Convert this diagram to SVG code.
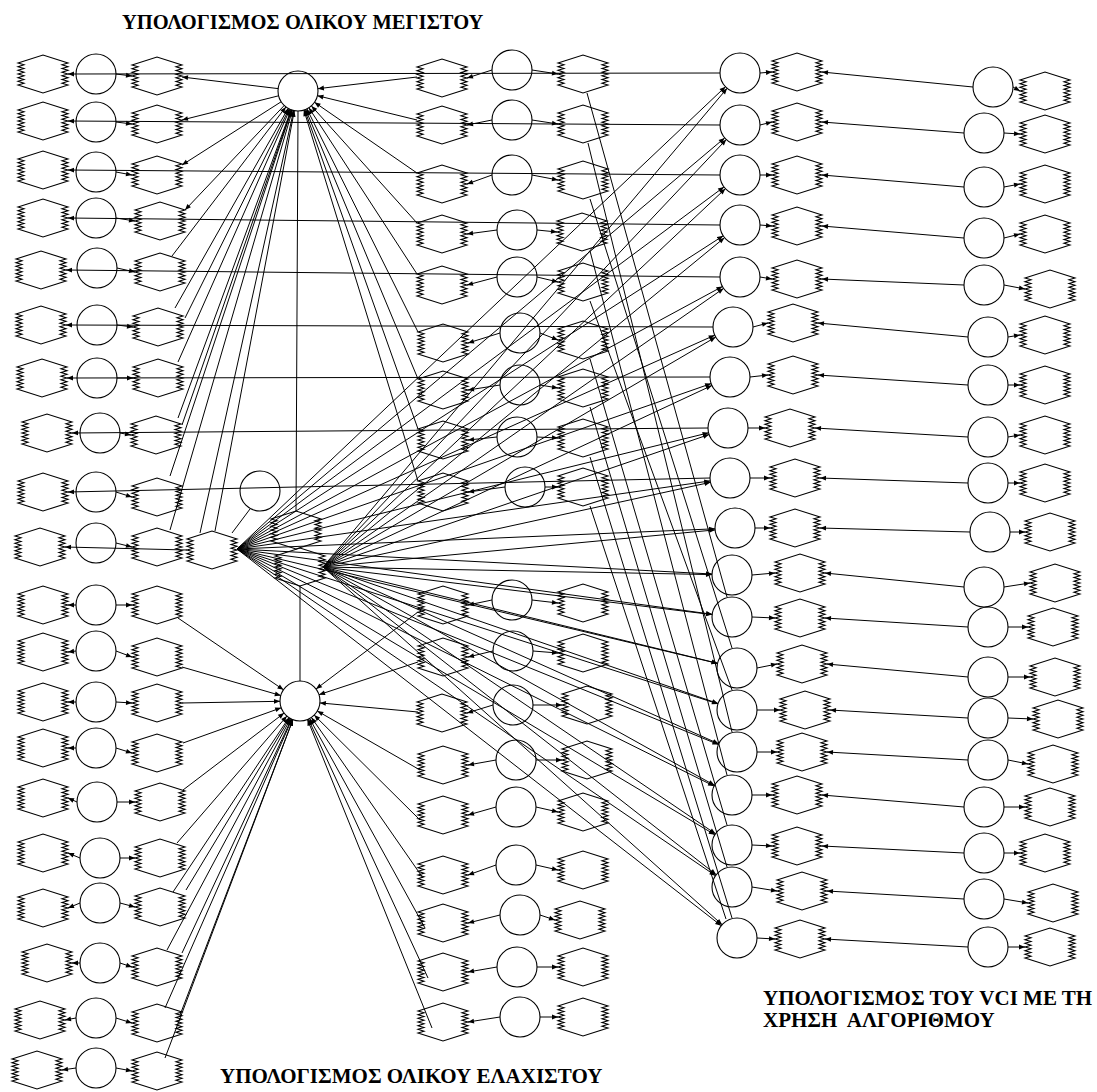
<svg xmlns="http://www.w3.org/2000/svg" xmlns:xlink="http://www.w3.org/1999/xlink" width="1097" height="1092" viewBox="0 0 1097 1092">
<style>
.n{fill:none;stroke:#000;stroke-width:1.1}
.l line{stroke:#000;stroke-width:1}
.l line.a{marker-end:url(#ah)}
.t{font-family:"Liberation Serif","Times New Roman",serif;font-weight:bold;font-size:20.5px;fill:#000}
.t2{font-size:21px}
</style>
<defs>
<marker id="ah" viewBox="0 0 10 10" refX="10" refY="5" markerWidth="7" markerHeight="6" markerUnits="userSpaceOnUse" orient="auto"><path d="M0,1L10,5L0,9Z" fill="#000"/></marker>
<path id="hx" d="M-25,-11L0,-19L25,-11L19,-9.2L25,-7.3L19,-5.5L25,-3.7L19,-1.8L25,0L19,1.8L25,3.7L19,5.5L25,7.3L19,9.2L25,11L0,19L-25,11L-19,9.2L-25,7.3L-19,5.5L-25,3.7L-19,1.8L-25,0L-19,-1.8L-25,-3.7L-19,-5.5L-25,-7.3L-19,-9.2Z"/>
</defs>
<rect width="1097" height="1092" fill="#fff"/>

<g id="connectors" class="l">
<line class="a" x1="116" y1="74" x2="132" y2="76"/>
<line class="a" x1="116" y1="122" x2="132" y2="124"/>
<line class="a" x1="116" y1="172" x2="132" y2="175"/>
<line class="a" x1="116" y1="218" x2="135" y2="221"/>
<line class="a" x1="117" y1="268" x2="135" y2="272"/>
<line class="a" x1="117" y1="325" x2="133" y2="327"/>
<line class="a" x1="117" y1="378" x2="133" y2="378"/>
<line class="a" x1="120" y1="433" x2="131" y2="435"/>
<line class="a" x1="116" y1="492" x2="132" y2="497"/>
<line class="a" x1="116" y1="543" x2="132" y2="547"/>
<line class="a" x1="116" y1="605" x2="132" y2="605"/>
<line class="a" x1="116" y1="651" x2="132" y2="657"/>
<line class="a" x1="116" y1="702" x2="132" y2="703"/>
<line class="a" x1="116" y1="748" x2="132" y2="753"/>
<line class="a" x1="117" y1="802" x2="135" y2="802"/>
<line class="a" x1="120" y1="858" x2="135" y2="858"/>
<line class="a" x1="120" y1="903" x2="135" y2="907"/>
<line class="a" x1="120" y1="963" x2="132" y2="967"/>
<line class="a" x1="116" y1="1018" x2="132" y2="1023"/>
<line class="a" x1="116" y1="1068" x2="132" y2="1071"/>
<line class="a" x1="720" y1="73" x2="68" y2="74"/>
<line class="a" x1="720" y1="125" x2="68" y2="121"/>
<line class="a" x1="720" y1="175" x2="68" y2="170"/>
<line class="a" x1="720" y1="225" x2="68" y2="218"/>
<line class="a" x1="720" y1="277" x2="66" y2="270"/>
<line class="a" x1="713" y1="327" x2="66" y2="325"/>
<line class="a" x1="710" y1="377" x2="67" y2="378"/>
<line class="a" x1="708" y1="428" x2="72" y2="433"/>
<line class="a" x1="710" y1="478" x2="68" y2="492"/>
<line class="a" x1="187" y1="550" x2="65" y2="547"/>
<line class="a" x1="76" y1="605" x2="68" y2="605"/>
<line class="a" x1="76" y1="651" x2="68" y2="652"/>
<line class="a" x1="76" y1="702" x2="68" y2="702"/>
<line class="a" x1="76" y1="748" x2="68" y2="748"/>
<line class="a" x1="77" y1="802" x2="68" y2="798"/>
<line class="a" x1="80" y1="858" x2="68" y2="853"/>
<line class="a" x1="80" y1="903" x2="68" y2="908"/>
<line class="a" x1="80" y1="963" x2="72" y2="963"/>
<line class="a" x1="76" y1="1018" x2="65" y2="1020"/>
<line class="a" x1="76" y1="1068" x2="62" y2="1070"/>
<line class="a" x1="492" y1="70" x2="467" y2="78"/><line class="a" x1="532" y1="70" x2="558" y2="74"/>
<line class="a" x1="492" y1="120" x2="467" y2="125"/><line class="a" x1="532" y1="120" x2="558" y2="124"/>
<line class="a" x1="492" y1="175" x2="467" y2="184"/><line class="a" x1="532" y1="175" x2="558" y2="180"/>
<line class="a" x1="497" y1="230" x2="467" y2="234"/><line class="a" x1="537" y1="230" x2="557" y2="232"/>
<line class="a" x1="497" y1="277" x2="467" y2="285"/><line class="a" x1="537" y1="277" x2="558" y2="282"/>
<line class="a" x1="500" y1="333" x2="468" y2="343"/><line class="a" x1="540" y1="333" x2="558" y2="340"/>
<line class="a" x1="500" y1="385" x2="468" y2="390"/><line class="a" x1="540" y1="385" x2="558" y2="388"/>
<line class="a" x1="497" y1="437" x2="468" y2="440"/><line class="a" x1="537" y1="437" x2="558" y2="438"/>
<line class="a" x1="505" y1="487" x2="468" y2="492"/><line class="a" x1="545" y1="487" x2="558" y2="487"/>
<line class="a" x1="492" y1="600" x2="468" y2="605"/><line class="a" x1="532" y1="600" x2="558" y2="603"/>
<line class="a" x1="493" y1="651" x2="468" y2="657"/><line class="a" x1="533" y1="651" x2="558" y2="653"/>
<line class="a" x1="493" y1="705" x2="467" y2="713"/><line class="a" x1="533" y1="705" x2="562" y2="705"/>
<line class="a" x1="496" y1="760" x2="468" y2="765"/><line class="a" x1="536" y1="760" x2="562" y2="760"/>
<line class="a" x1="496" y1="807" x2="468" y2="815"/><line class="a" x1="536" y1="807" x2="558" y2="812"/>
<line class="a" x1="496" y1="865" x2="468" y2="875"/><line class="a" x1="536" y1="865" x2="558" y2="870"/>
<line class="a" x1="500" y1="915" x2="468" y2="923"/><line class="a" x1="540" y1="915" x2="555" y2="920"/>
<line class="a" x1="497" y1="967" x2="468" y2="972"/><line class="a" x1="537" y1="967" x2="558" y2="967"/>
<line class="a" x1="500" y1="1017" x2="468" y2="1022"/><line class="a" x1="540" y1="1017" x2="558" y2="1017"/>
<line class="a" x1="760" y1="73" x2="772" y2="72"/><line class="a" x1="973" y1="87" x2="822" y2="72"/><line class="a" x1="1013" y1="87" x2="1020" y2="91"/>
<line class="a" x1="760" y1="125" x2="772" y2="122"/><line class="a" x1="964" y1="133" x2="822" y2="122"/><line class="a" x1="1004" y1="133" x2="1020" y2="134"/>
<line class="a" x1="760" y1="175" x2="772" y2="175"/><line class="a" x1="964" y1="187" x2="822" y2="175"/><line class="a" x1="1004" y1="187" x2="1020" y2="184"/>
<line class="a" x1="760" y1="225" x2="772" y2="226"/><line class="a" x1="964" y1="238" x2="822" y2="226"/><line class="a" x1="1004" y1="238" x2="1020" y2="234"/>
<line class="a" x1="760" y1="277" x2="772" y2="279"/><line class="a" x1="964" y1="285" x2="822" y2="279"/><line class="a" x1="1004" y1="285" x2="1025" y2="289"/>
<line class="a" x1="753" y1="327" x2="768" y2="323"/><line class="a" x1="968" y1="337" x2="818" y2="323"/><line class="a" x1="1008" y1="337" x2="1020" y2="335"/>
<line class="a" x1="750" y1="377" x2="768" y2="375"/><line class="a" x1="968" y1="385" x2="818" y2="375"/><line class="a" x1="1008" y1="385" x2="1020" y2="385"/>
<line class="a" x1="748" y1="428" x2="765" y2="428"/><line class="a" x1="968" y1="437" x2="815" y2="428"/><line class="a" x1="1008" y1="437" x2="1020" y2="435"/>
<line class="a" x1="750" y1="478" x2="770" y2="478"/><line class="a" x1="968" y1="483" x2="820" y2="478"/><line class="a" x1="1008" y1="483" x2="1020" y2="483"/>
<line class="a" x1="755" y1="528" x2="770" y2="528"/><line class="a" x1="970" y1="532" x2="820" y2="528"/><line class="a" x1="1010" y1="532" x2="1025" y2="532"/>
<line class="a" x1="752" y1="575" x2="775" y2="573"/><line class="a" x1="964" y1="587" x2="825" y2="573"/><line class="a" x1="1004" y1="587" x2="1030" y2="583"/>
<line class="a" x1="752" y1="617" x2="775" y2="618"/><line class="a" x1="968" y1="627" x2="825" y2="618"/><line class="a" x1="1008" y1="627" x2="1028" y2="627"/>
<line class="a" x1="757" y1="668" x2="777" y2="664"/><line class="a" x1="968" y1="677" x2="827" y2="664"/><line class="a" x1="1008" y1="677" x2="1030" y2="677"/>
<line class="a" x1="757" y1="710" x2="780" y2="710"/><line class="a" x1="968" y1="718" x2="830" y2="710"/><line class="a" x1="1008" y1="718" x2="1033" y2="719"/>
<line class="a" x1="757" y1="752" x2="777" y2="752"/><line class="a" x1="968" y1="760" x2="827" y2="752"/><line class="a" x1="1008" y1="760" x2="1028" y2="764"/>
<line class="a" x1="752" y1="795" x2="772" y2="795"/><line class="a" x1="964" y1="807" x2="822" y2="795"/><line class="a" x1="1004" y1="807" x2="1025" y2="807"/>
<line class="a" x1="752" y1="845" x2="772" y2="846"/><line class="a" x1="964" y1="853" x2="822" y2="846"/><line class="a" x1="1004" y1="853" x2="1020" y2="853"/>
<line class="a" x1="752" y1="887" x2="777" y2="891"/><line class="a" x1="964" y1="899" x2="827" y2="891"/><line class="a" x1="1004" y1="899" x2="1028" y2="903"/>
<line class="a" x1="757" y1="938" x2="775" y2="939"/><line class="a" x1="968" y1="947" x2="825" y2="939"/><line class="a" x1="1008" y1="947" x2="1025" y2="947"/>
<line class="a" x1="237" y1="549" x2="725.5" y2="86.7"/>
<line class="a" x1="237" y1="549" x2="724.7" y2="137.9"/>
<line class="a" x1="237" y1="549" x2="724" y2="186.9"/>
<line class="a" x1="237" y1="549" x2="723.2" y2="235.8"/>
<line class="a" x1="237" y1="549" x2="722.4" y2="286.5"/>
<line class="a" x1="237" y1="549" x2="714.7" y2="335.2"/>
<line class="a" x1="237" y1="549" x2="711.1" y2="383.6"/>
<line class="a" x1="237" y1="549" x2="708.6" y2="432.8"/>
<line class="a" x1="237" y1="549" x2="710.2" y2="480.9"/>
<line class="a" x1="237" y1="549" x2="715" y2="528.8"/>
<line class="a" x1="237" y1="549" x2="712" y2="574"/>
<line class="a" x1="237" y1="549" x2="712.2" y2="614.3"/>
<line class="a" x1="237" y1="549" x2="717.5" y2="663.4"/>
<line class="a" x1="237" y1="549" x2="718" y2="703.9"/>
<line class="a" x1="237" y1="549" x2="718.5" y2="744.5"/>
<line class="a" x1="237" y1="549" x2="714.1" y2="786.1"/>
<line class="a" x1="237" y1="549" x2="714.8" y2="834.7"/>
<line class="a" x1="237" y1="549" x2="715.5" y2="875.7"/>
<line class="a" x1="237" y1="549" x2="721.2" y2="925.7"/>
<line class="a" x1="323" y1="567" x2="727.1" y2="88.3"/>
<line class="a" x1="323" y1="567" x2="726.3" y2="139.5"/>
<line class="a" x1="323" y1="567" x2="725.4" y2="188.7"/>
<line class="a" x1="323" y1="567" x2="724.5" y2="237.7"/>
<line class="a" x1="323" y1="567" x2="723.6" y2="288.4"/>
<line class="a" x1="323" y1="567" x2="715.7" y2="337.1"/>
<line class="a" x1="323" y1="567" x2="711.9" y2="385.5"/>
<line class="a" x1="323" y1="567" x2="709.1" y2="434.5"/>
<line class="a" x1="323" y1="567" x2="710.5" y2="482.3"/>
<line class="a" x1="323" y1="567" x2="715.1" y2="529.9"/>
<line class="a" x1="323" y1="567" x2="712" y2="574.6"/>
<line class="a" x1="323" y1="567" x2="712.1" y2="614.6"/>
<line class="a" x1="323" y1="567" x2="717.6" y2="663.3"/>
<line class="a" x1="323" y1="567" x2="718.1" y2="703.5"/>
<line class="a" x1="323" y1="567" x2="718.7" y2="743.8"/>
<line class="a" x1="323" y1="567" x2="714.5" y2="785.3"/>
<line class="a" x1="323" y1="567" x2="715.5" y2="833.8"/>
<line class="a" x1="323" y1="567" x2="716.2" y2="874.7"/>
<line class="a" x1="323" y1="567" x2="722.1" y2="924.7"/>
<line x1="587" y1="93" x2="727" y2="597"/>
<line x1="588" y1="143" x2="732" y2="732"/>
<line x1="590" y1="199" x2="732" y2="648"/>
<line x1="590" y1="251" x2="727" y2="775"/>
<line x1="590" y1="301" x2="732" y2="690"/>
<line x1="590" y1="359" x2="727" y2="825"/>
<line x1="590" y1="407" x2="727" y2="867"/>
<line x1="590" y1="457" x2="732" y2="918"/>
<line x1="590" y1="506" x2="726" y2="919"/>
<line class="a" x1="278.1" y1="88.6" x2="182" y2="77"/>
<line class="a" x1="278.6" y1="95.8" x2="182" y2="120"/>
<line class="a" x1="281.1" y1="101.8" x2="182" y2="165"/>
<line class="a" x1="284.2" y1="105.5" x2="185" y2="210"/>
<line class="a" x1="172" y1="256" x2="285.9" y2="106.9"/>
<line class="a" x1="175" y1="308" x2="288.1" y2="108.4"/>
<line class="a" x1="185" y1="318" x2="289.1" y2="108.9"/>
<line class="a" x1="178" y1="362" x2="289.9" y2="109.3"/>
<line class="a" x1="178" y1="418" x2="291.1" y2="109.8"/>
<line class="a" x1="182" y1="425" x2="291.4" y2="109.9"/>
<line class="a" x1="170" y1="476" x2="291.7" y2="110"/>
<line class="a" x1="170" y1="530" x2="292.4" y2="110.2"/>
<line class="a" x1="200" y1="533" x2="293.7" y2="110.5"/>
<line class="a" x1="215" y1="531" x2="294.3" y2="110.7"/>
<line class="a" x1="417" y1="77" x2="317.9" y2="88.7"/>
<line class="a" x1="417" y1="120" x2="317.4" y2="95.7"/>
<line class="a" x1="417" y1="173" x2="314.5" y2="102.3"/>
<line class="a" x1="417" y1="223" x2="311.4" y2="105.9"/>
<line class="a" x1="417" y1="274" x2="308.9" y2="107.8"/>
<line class="a" x1="418" y1="332" x2="306.9" y2="108.9"/>
<line class="a" x1="418" y1="379" x2="305.7" y2="109.5"/>
<line class="a" x1="418" y1="429" x2="304.7" y2="109.8"/>
<line class="a" x1="418" y1="481" x2="303.9" y2="110.1"/>
<line x1="298" y1="111" x2="296" y2="511"/>
<line x1="250" y1="509" x2="232" y2="533"/>
<line class="a" x1="178" y1="618" x2="283.5" y2="689.8"/>
<line class="a" x1="182" y1="667" x2="280.8" y2="695.5"/>
<line class="a" x1="182" y1="703" x2="280" y2="701.3"/>
<line class="a" x1="183" y1="743" x2="281.2" y2="707.8"/>
<line class="a" x1="183" y1="790" x2="284.1" y2="713.1"/>
<line class="a" x1="177" y1="843" x2="286.9" y2="716.1"/>
<line class="a" x1="173" y1="892" x2="288.9" y2="717.7"/>
<line class="a" x1="186" y1="890" x2="289.7" y2="718.1"/>
<line class="a" x1="167" y1="950" x2="290.6" y2="718.6"/>
<line class="a" x1="182" y1="953" x2="291.5" y2="719.1"/>
<line class="a" x1="165" y1="1008" x2="291.9" y2="719.3"/>
<line class="a" x1="180" y1="1015" x2="292.9" y2="719.7"/>
<line class="a" x1="165" y1="1058" x2="292.9" y2="719.7"/>
<line class="a" x1="418" y1="612" x2="316" y2="689"/>
<line class="a" x1="418" y1="662" x2="319" y2="694.7"/>
<line class="a" x1="418" y1="712" x2="319.9" y2="702.9"/>
<line class="a" x1="420" y1="770" x2="317.3" y2="711"/>
<line class="a" x1="420" y1="820" x2="314.2" y2="715.1"/>
<line class="a" x1="423" y1="878" x2="311.4" y2="717.4"/>
<line class="a" x1="425" y1="928" x2="309.6" y2="718.5"/>
<line class="a" x1="428" y1="978" x2="308.4" y2="719.2"/>
<line class="a" x1="432" y1="1028" x2="307.5" y2="719.5"/>
<line x1="300" y1="586" x2="300" y2="681"/>
</g>

<g id="nodes" class="n">
<g id="a1"><use xlink:href="#hx" x="43" y="74"/></g><g id="b1"><circle cx="96" cy="74" r="20"/></g><g id="c1"><use xlink:href="#hx" x="157" y="76"/></g>
<g id="a2"><use xlink:href="#hx" x="43" y="121"/></g><g id="b2"><circle cx="96" cy="122" r="20"/></g><g id="c2"><use xlink:href="#hx" x="157" y="124"/></g>
<g id="a3"><use xlink:href="#hx" x="43" y="170"/></g><g id="b3"><circle cx="96" cy="172" r="20"/></g><g id="c3"><use xlink:href="#hx" x="157" y="175"/></g>
<g id="a4"><use xlink:href="#hx" x="43" y="218"/></g><g id="b4"><circle cx="96" cy="218" r="20"/></g><g id="c4"><use xlink:href="#hx" x="160" y="221"/></g>
<g id="a5"><use xlink:href="#hx" x="41" y="270"/></g><g id="b5"><circle cx="97" cy="268" r="20"/></g><g id="c5"><use xlink:href="#hx" x="160" y="272"/></g>
<g id="a6"><use xlink:href="#hx" x="41" y="325"/></g><g id="b6"><circle cx="97" cy="325" r="20"/></g><g id="c6"><use xlink:href="#hx" x="158" y="327"/></g>
<g id="a7"><use xlink:href="#hx" x="42" y="378"/></g><g id="b7"><circle cx="97" cy="378" r="20"/></g><g id="c7"><use xlink:href="#hx" x="158" y="378"/></g>
<g id="a8"><use xlink:href="#hx" x="47" y="433"/></g><g id="b8"><circle cx="100" cy="433" r="20"/></g><g id="c8"><use xlink:href="#hx" x="156" y="435"/></g>
<g id="a9"><use xlink:href="#hx" x="43" y="492"/></g><g id="b9"><circle cx="96" cy="492" r="20"/></g><g id="c9"><use xlink:href="#hx" x="157" y="497"/></g>
<g id="a10"><use xlink:href="#hx" x="40" y="547"/></g><g id="b10"><circle cx="96" cy="543" r="20"/></g><g id="c10"><use xlink:href="#hx" x="157" y="547"/></g>
<g id="a11"><use xlink:href="#hx" x="43" y="605"/></g><g id="b11"><circle cx="96" cy="605" r="20"/></g><g id="c11"><use xlink:href="#hx" x="157" y="605"/></g>
<g id="a12"><use xlink:href="#hx" x="43" y="652"/></g><g id="b12"><circle cx="96" cy="651" r="20"/></g><g id="c12"><use xlink:href="#hx" x="157" y="657"/></g>
<g id="a13"><use xlink:href="#hx" x="43" y="702"/></g><g id="b13"><circle cx="96" cy="702" r="20"/></g><g id="c13"><use xlink:href="#hx" x="157" y="703"/></g>
<g id="a14"><use xlink:href="#hx" x="43" y="748"/></g><g id="b14"><circle cx="96" cy="748" r="20"/></g><g id="c14"><use xlink:href="#hx" x="157" y="753"/></g>
<g id="a15"><use xlink:href="#hx" x="43" y="798"/></g><g id="b15"><circle cx="97" cy="802" r="20"/></g><g id="c15"><use xlink:href="#hx" x="160" y="802"/></g>
<g id="a16"><use xlink:href="#hx" x="43" y="853"/></g><g id="b16"><circle cx="100" cy="858" r="20"/></g><g id="c16"><use xlink:href="#hx" x="160" y="858"/></g>
<g id="a17"><use xlink:href="#hx" x="43" y="908"/></g><g id="b17"><circle cx="100" cy="903" r="20"/></g><g id="c17"><use xlink:href="#hx" x="160" y="907"/></g>
<g id="a18"><use xlink:href="#hx" x="47" y="963"/></g><g id="b18"><circle cx="100" cy="963" r="20"/></g><g id="c18"><use xlink:href="#hx" x="157" y="967"/></g>
<g id="a19"><use xlink:href="#hx" x="40" y="1020"/></g><g id="b19"><circle cx="96" cy="1018" r="20"/></g><g id="c19"><use xlink:href="#hx" x="157" y="1023"/></g>
<g id="a20"><use xlink:href="#hx" x="37" y="1070"/></g><g id="b20"><circle cx="96" cy="1068" r="20"/></g><g id="c20"><use xlink:href="#hx" x="157" y="1071"/></g>

<g id="hub-max"><circle cx="298" cy="91" r="20"/></g>
<g id="hub-x"><circle cx="260" cy="491" r="20"/></g>
<g id="h0"><use xlink:href="#hx" x="212" y="550"/></g>
<g id="h1"><use xlink:href="#hx" x="296" y="530"/></g>
<g id="h2"><use xlink:href="#hx" x="300" y="567"/></g>
<g id="hub-min"><circle cx="300" cy="701" r="20"/></g>

<g id="d1"><use xlink:href="#hx" x="442" y="78"/></g><g id="e1"><circle cx="512" cy="70" r="20"/></g><g id="f1"><use xlink:href="#hx" x="583" y="74"/></g>
<g id="d2"><use xlink:href="#hx" x="442" y="125"/></g><g id="e2"><circle cx="512" cy="120" r="20"/></g><g id="f2"><use xlink:href="#hx" x="583" y="124"/></g>
<g id="d3"><use xlink:href="#hx" x="442" y="184"/></g><g id="e3"><circle cx="512" cy="175" r="20"/></g><g id="f3"><use xlink:href="#hx" x="583" y="180"/></g>
<g id="d4"><use xlink:href="#hx" x="442" y="234"/></g><g id="e4"><circle cx="517" cy="230" r="20"/></g><g id="f4"><use xlink:href="#hx" x="582" y="232"/></g>
<g id="d5"><use xlink:href="#hx" x="442" y="285"/></g><g id="e5"><circle cx="517" cy="277" r="20"/></g><g id="f5"><use xlink:href="#hx" x="583" y="282"/></g>
<g id="d6"><use xlink:href="#hx" x="443" y="343"/></g><g id="e6"><circle cx="520" cy="333" r="20"/></g><g id="f6"><use xlink:href="#hx" x="583" y="340"/></g>
<g id="d7"><use xlink:href="#hx" x="443" y="390"/></g><g id="e7"><circle cx="520" cy="385" r="20"/></g><g id="f7"><use xlink:href="#hx" x="583" y="388"/></g>
<g id="d8"><use xlink:href="#hx" x="443" y="440"/></g><g id="e8"><circle cx="517" cy="437" r="20"/></g><g id="f8"><use xlink:href="#hx" x="583" y="438"/></g>
<g id="d9"><use xlink:href="#hx" x="443" y="492"/></g><g id="e9"><circle cx="525" cy="487" r="20"/></g><g id="f9"><use xlink:href="#hx" x="583" y="487"/></g>
<g id="d10"><use xlink:href="#hx" x="443" y="605"/></g><g id="e10"><circle cx="512" cy="600" r="20"/></g><g id="f10"><use xlink:href="#hx" x="583" y="603"/></g>
<g id="d11"><use xlink:href="#hx" x="443" y="657"/></g><g id="e11"><circle cx="513" cy="651" r="20"/></g><g id="f11"><use xlink:href="#hx" x="583" y="653"/></g>
<g id="d12"><use xlink:href="#hx" x="442" y="713"/></g><g id="e12"><circle cx="513" cy="705" r="20"/></g><g id="f12"><use xlink:href="#hx" x="587" y="705"/></g>
<g id="d13"><use xlink:href="#hx" x="443" y="765"/></g><g id="e13"><circle cx="516" cy="760" r="20"/></g><g id="f13"><use xlink:href="#hx" x="587" y="760"/></g>
<g id="d14"><use xlink:href="#hx" x="443" y="815"/></g><g id="e14"><circle cx="516" cy="807" r="20"/></g><g id="f14"><use xlink:href="#hx" x="583" y="812"/></g>
<g id="d15"><use xlink:href="#hx" x="443" y="875"/></g><g id="e15"><circle cx="516" cy="865" r="20"/></g><g id="f15"><use xlink:href="#hx" x="583" y="870"/></g>
<g id="d16"><use xlink:href="#hx" x="443" y="923"/></g><g id="e16"><circle cx="520" cy="915" r="20"/></g><g id="f16"><use xlink:href="#hx" x="580" y="920"/></g>
<g id="d17"><use xlink:href="#hx" x="443" y="972"/></g><g id="e17"><circle cx="517" cy="967" r="20"/></g><g id="f17"><use xlink:href="#hx" x="583" y="967"/></g>
<g id="d18"><use xlink:href="#hx" x="443" y="1022"/></g><g id="e18"><circle cx="520" cy="1017" r="20"/></g><g id="f18"><use xlink:href="#hx" x="583" y="1017"/></g>

<g id="r1"><circle cx="740" cy="73" r="20"/></g><g id="s1"><use xlink:href="#hx" x="797" y="72"/></g><g id="t1"><circle cx="993" cy="87" r="20"/></g><g id="u1"><use xlink:href="#hx" x="1045" y="91"/></g>
<g id="r2"><circle cx="740" cy="125" r="20"/></g><g id="s2"><use xlink:href="#hx" x="797" y="122"/></g><g id="t2"><circle cx="984" cy="133" r="20"/></g><g id="u2"><use xlink:href="#hx" x="1045" y="134"/></g>
<g id="r3"><circle cx="740" cy="175" r="20"/></g><g id="s3"><use xlink:href="#hx" x="797" y="175"/></g><g id="t3"><circle cx="984" cy="187" r="20"/></g><g id="u3"><use xlink:href="#hx" x="1045" y="184"/></g>
<g id="r4"><circle cx="740" cy="225" r="20"/></g><g id="s4"><use xlink:href="#hx" x="797" y="226"/></g><g id="t4"><circle cx="984" cy="238" r="20"/></g><g id="u4"><use xlink:href="#hx" x="1045" y="234"/></g>
<g id="r5"><circle cx="740" cy="277" r="20"/></g><g id="s5"><use xlink:href="#hx" x="797" y="279"/></g><g id="t5"><circle cx="984" cy="285" r="20"/></g><g id="u5"><use xlink:href="#hx" x="1050" y="289"/></g>
<g id="r6"><circle cx="733" cy="327" r="20"/></g><g id="s6"><use xlink:href="#hx" x="793" y="323"/></g><g id="t6"><circle cx="988" cy="337" r="20"/></g><g id="u6"><use xlink:href="#hx" x="1045" y="335"/></g>
<g id="r7"><circle cx="730" cy="377" r="20"/></g><g id="s7"><use xlink:href="#hx" x="793" y="375"/></g><g id="t7"><circle cx="988" cy="385" r="20"/></g><g id="u7"><use xlink:href="#hx" x="1045" y="385"/></g>
<g id="r8"><circle cx="728" cy="428" r="20"/></g><g id="s8"><use xlink:href="#hx" x="790" y="428"/></g><g id="t8"><circle cx="988" cy="437" r="20"/></g><g id="u8"><use xlink:href="#hx" x="1045" y="435"/></g>
<g id="r9"><circle cx="730" cy="478" r="20"/></g><g id="s9"><use xlink:href="#hx" x="795" y="478"/></g><g id="t9"><circle cx="988" cy="483" r="20"/></g><g id="u9"><use xlink:href="#hx" x="1045" y="483"/></g>
<g id="r10"><circle cx="735" cy="528" r="20"/></g><g id="s10"><use xlink:href="#hx" x="795" y="528"/></g><g id="t10"><circle cx="990" cy="532" r="20"/></g><g id="u10"><use xlink:href="#hx" x="1050" y="532"/></g>
<g id="r11"><circle cx="732" cy="575" r="20"/></g><g id="s11"><use xlink:href="#hx" x="800" y="573"/></g><g id="t11"><circle cx="984" cy="587" r="20"/></g><g id="u11"><use xlink:href="#hx" x="1055" y="583"/></g>
<g id="r12"><circle cx="732" cy="617" r="20"/></g><g id="s12"><use xlink:href="#hx" x="800" y="618"/></g><g id="t12"><circle cx="988" cy="627" r="20"/></g><g id="u12"><use xlink:href="#hx" x="1053" y="627"/></g>
<g id="r13"><circle cx="737" cy="668" r="20"/></g><g id="s13"><use xlink:href="#hx" x="802" y="664"/></g><g id="t13"><circle cx="988" cy="677" r="20"/></g><g id="u13"><use xlink:href="#hx" x="1055" y="677"/></g>
<g id="r14"><circle cx="737" cy="710" r="20"/></g><g id="s14"><use xlink:href="#hx" x="805" y="710"/></g><g id="t14"><circle cx="988" cy="718" r="20"/></g><g id="u14"><use xlink:href="#hx" x="1058" y="719"/></g>
<g id="r15"><circle cx="737" cy="752" r="20"/></g><g id="s15"><use xlink:href="#hx" x="802" y="752"/></g><g id="t15"><circle cx="988" cy="760" r="20"/></g><g id="u15"><use xlink:href="#hx" x="1053" y="764"/></g>
<g id="r16"><circle cx="732" cy="795" r="20"/></g><g id="s16"><use xlink:href="#hx" x="797" y="795"/></g><g id="t16"><circle cx="984" cy="807" r="20"/></g><g id="u16"><use xlink:href="#hx" x="1050" y="807"/></g>
<g id="r17"><circle cx="732" cy="845" r="20"/></g><g id="s17"><use xlink:href="#hx" x="797" y="846"/></g><g id="t17"><circle cx="984" cy="853" r="20"/></g><g id="u17"><use xlink:href="#hx" x="1045" y="853"/></g>
<g id="r18"><circle cx="732" cy="887" r="20"/></g><g id="s18"><use xlink:href="#hx" x="802" y="891"/></g><g id="t18"><circle cx="984" cy="899" r="20"/></g><g id="u18"><use xlink:href="#hx" x="1053" y="903"/></g>
<g id="r19"><circle cx="737" cy="938" r="20"/></g><g id="s19"><use xlink:href="#hx" x="800" y="939"/></g><g id="t19"><circle cx="988" cy="947" r="20"/></g><g id="u19"><use xlink:href="#hx" x="1050" y="947"/></g>
</g>

<g id="labels">
<text class="t" x="122" y="29">ΥΠΟΛΟΓΙΣΜΟΣ ΟΛΙΚΟΥ ΜΕΓΙΣΤΟΥ</text>
<text class="t t2" x="220" y="1083">ΥΠΟΛΟΓΙΣΜΟΣ ΟΛΙΚΟΥ ΕΛΑΧΙΣΤΟΥ</text>
<text class="t t2" x="763" y="1005">ΥΠΟΛΟΓΙΣΜΟΣ ΤΟΥ VCI ΜΕ ΤΗ</text>
<text class="t t2" x="763" y="1027" xml:space="preserve">ΧΡΗΣΗ  ΑΛΓΟΡΙΘΜΟΥ</text>
</g>
</svg>
